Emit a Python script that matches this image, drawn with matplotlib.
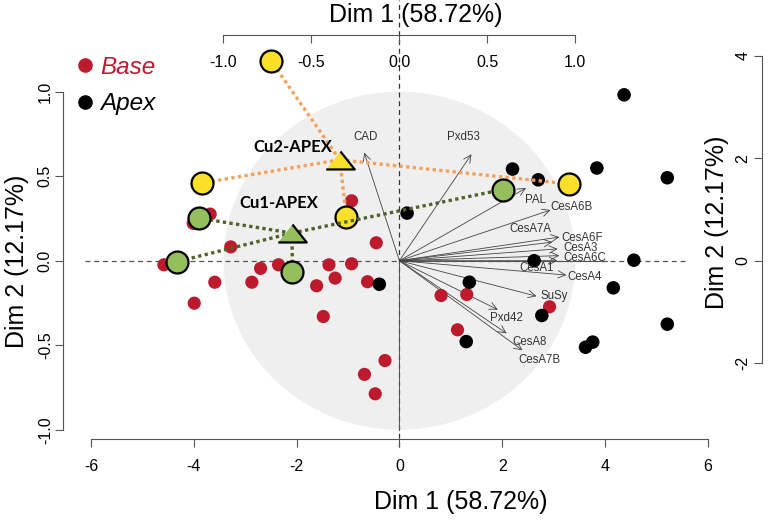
import matplotlib
matplotlib.use('Agg')
import matplotlib.pyplot as plt
from matplotlib.patches import Ellipse, FancyArrowPatch
from matplotlib.lines import Line2D

plt.rcParams['font.family'] = ['Liberation Sans', 'DejaVu Sans']
plt.rcParams['axes.unicode_minus'] = False

# ---------------- data ----------------
base_x = [-4.58, -3.59, -3.99, -3.68, -4.01, -3.28, -2.70, -2.35, -2.87, -1.37, -0.93, -1.25,
          -1.61, -1.48, -0.62, -0.45, -0.93, -0.28, -0.68, -0.47, 0.81, 1.31, 1.13, 2.92]
base_y = [-0.08, -0.42, -0.83, 0.91, 0.73, 0.27, -0.15, -0.08, -0.42, -0.08, -0.06, -0.34,
          -0.49, -1.09, -0.41, 0.35, 1.17, -1.95, -2.22, -2.60, -0.68, -0.66, -1.35, -0.90]

apex_x = [-0.39, 0.15, 2.20, 2.70, 3.84, 4.37, 5.21, 2.62, 4.56, 4.16, 1.36, 2.77, 1.30, 3.62, 3.76, 5.21]
apex_y = [-0.46, 0.93, 1.79, 1.58, 1.81, 3.24, 1.62, 0.00, 0.01, -0.53, -0.42, -1.07, -1.58, -1.69, -1.59, -1.24]

cu2_x = [-2.50, -3.83, -1.03, 3.30]
cu2_y = [3.91, 1.52, 0.86, 1.50]
cu2_center = (-1.16, 1.97)

cu1_x = [-3.89, -4.33, -2.08, 2.01]
cu1_y = [0.83, -0.02, -0.23, 1.39]
cu1_center = (-2.09, 0.54)

var_names = ['CAD', 'Pxd53', 'PAL', 'CesA6B', 'CesA7A', 'CesA6F', 'CesA3', 'CesA6C',
             'CesA1', 'CesA4', 'SuSy', 'Pxd42', 'CesA8', 'CesA7B']
var_x = [-0.20, 0.41, 0.72, 0.86, 0.87, 0.91, 0.90, 0.91, 0.90, 0.95, 0.78, 0.56, 0.61, 0.70]
var_y = [0.64, 0.63, 0.43, 0.30, 0.11, 0.14, 0.07, 0.03, 0.00, -0.085, -0.21, -0.29, -0.43, -0.53]

bottom_ticks = [-6, -4, -2, 0, 2, 4, 6]
right_ticks = [-2, 0, 2, 4]
var_ticks = [-1.0, -0.5, 0.0, 0.5, 1.0]
var_ticklabels = ['-1.0', '-0.5', '0.0', '0.5', '1.0']
xlab = 'Dim 1 (58.72%)'
ylab = 'Dim 2 (12.17%)'

# ---------------- layout (pixel based) ----------------
W, H = 768, 521
def fx(px): return px / W
def fy(py): return 1 - py / H

X0, SX = 399.4, 51.42      # individuals: pixel = X0 + SX*x
Y0, SY = 260.7, 51.2       # individuals: pixel = Y0 - SY*y
VSX, VSY = 175.8, 169.0    # variables scale (px per unit)
kx, ky = VSX / SX, VSY / SY

L, R, T, B = 63, 762, 35, 439

# label positions for variables (variable units)
var_lab = {
    'CAD': (-0.19, 0.73, 'center'), 'Pxd53': (0.364, 0.73, 'center'), 'PAL': (0.772, 0.36, 'center'),
    'CesA6B': (0.86, 0.32, 'left'), 'CesA7A': (0.743, 0.188, 'center'), 'CesA6F': (0.92, 0.132, 'left'),
    'CesA3': (0.93, 0.073, 'left'), 'CesA6C': (0.93, 0.018, 'left'), 'CesA1': (0.781, -0.045, 'center'),
    'CesA4': (0.955, -0.096, 'left'), 'SuSy': (0.80, -0.207, 'left'), 'Pxd42': (0.611, -0.341, 'center'),
    'CesA8': (0.743, -0.483, 'center'), 'CesA7B': (0.796, -0.588, 'center'),
}

RED = '#BE1A2E'
ORANGE = '#F7A05A'
OLIVE = '#4F6228'
YELLOW = '#FBE02A'
GREEN = '#93BF5C'
AXC = '#555555'

fig = plt.figure(figsize=(W / 100, H / 100), dpi=100)
ax = fig.add_axes([fx(L), fy(B), fx(R) - fx(L), fy(T) - fy(B)])
ax.set_xlim((L - X0) / SX, (R - X0) / SX)
ax.set_ylim((Y0 - B) / SY, (Y0 - T) / SY)
ax.patch.set_visible(False)
for s in ['left', 'right', 'top']:
    ax.spines[s].set_visible(False)
ax.spines['bottom'].set_bounds(-6, 6)
ax.spines['bottom'].set_color(AXC)
ax.set_xticks(bottom_ticks)
ax.set_xticklabels([str(t) for t in bottom_ticks])
ax.set_yticks([])
ax.tick_params(axis='x', length=5.8, width=0.8, color=AXC, pad=8.5, labelsize=11.5)

# background circle of variables
ax.add_patch(Ellipse((0, 0), 2 * kx, 2 * ky, facecolor='#EFEFEF', edgecolor='none', zorder=0))

# reference lines
ax.plot([(85 - X0) / SX, (685 - X0) / SX], [0, 0], ls=(0, (4, 3)), color=AXC, lw=0.9, zorder=1)
ax.plot([0, 0], [(Y0 - 447) / SY, (Y0 - 0) / SY], ls=(0, (4, 3)), color='#333333', lw=0.9,
        zorder=1, clip_on=False)
ax.plot([0, 0], [0, -ky], color=AXC, lw=0.7, zorder=1)
ax.plot([0, (607 - X0) / SX], [0, 0], color=AXC, lw=0.7, zorder=1)

# variable arrows
for n, vx, vy in zip(var_names, var_x, var_y):
    arr = FancyArrowPatch((0, 0), (vx * kx, vy * ky), arrowstyle='->,head_length=0.45,head_width=0.22',
                          mutation_scale=12, color='#444444', lw=0.6, shrinkA=0, shrinkB=0, zorder=2)
    ax.add_patch(arr)
    lx, ly, ha = var_lab[n]
    ax.text(lx * kx, ly * ky, n, fontsize=8.3, color='#333333', ha=ha, va='center', zorder=2)

# individuals
ax.scatter(base_x, base_y, s=90, color=RED, edgecolors='none', zorder=3)
ax.scatter(apex_x, apex_y, s=95, color='black', edgecolors='none', zorder=3)

# Cu2 partial lines and points
for x, y in zip(cu2_x, cu2_y):
    ax.plot([cu2_center[0], x], [cu2_center[1], y], color=ORANGE, lw=2.4, ls=(0, (1, 1)),
            solid_capstyle='butt', dash_capstyle='butt', zorder=4)
ax.scatter(cu2_x, cu2_y, s=250, color=YELLOW, edgecolors='black', linewidths=1.6, zorder=5)

# Cu1 partial lines and points
for x, y in zip(cu1_x, cu1_y):
    ax.plot([cu1_center[0], x], [cu1_center[1], y], color=OLIVE, lw=2.4, ls=(0, (1, 1)),
            dash_capstyle='butt', zorder=6)
ax.scatter(cu1_x, cu1_y, s=250, color=GREEN, edgecolors='black', linewidths=1.6, zorder=7)

tri = [(-1, -0.63), (1, -0.63), (0, 0.63)]
ax.scatter([cu2_center[0]], [cu2_center[1]], marker=tri, s=420, color=YELLOW, edgecolors='black',
           linewidths=1.6, zorder=8)
ax.scatter([cu1_center[0]], [cu1_center[1]], marker=tri, s=420, color=GREEN, edgecolors='black',
           linewidths=1.6, zorder=8)

ax.text((292.5 - X0) / SX, (Y0 - 147.3) / SY, 'Cu2-APEX', family=['Lato', 'DejaVu Sans'],
        fontweight='bold', fontsize=12, ha='center', va='center', zorder=9)
ax.text((278.7 - X0) / SX, (Y0 - 202.7) / SY, 'Cu1-APEX', family=['Lato', 'DejaVu Sans'],
        fontweight='bold', fontsize=12, ha='center', va='center', zorder=9)

# ---- left axis (variables) ----
axL = fig.add_axes([fx(L), fy(B), 1e-4, fy(T) - fy(B)])
axL.patch.set_visible(False)
axL.set_ylim((Y0 - B) / VSY, (Y0 - T) / VSY)
for s in ['right', 'top', 'bottom']:
    axL.spines[s].set_visible(False)
axL.spines['left'].set_bounds(-1, 1)
axL.spines['left'].set_color(AXC)
axL.set_xticks([])
axL.set_yticks(var_ticks)
axL.set_yticklabels(var_ticklabels)
axL.tick_params(axis='y', length=5.8, width=0.8, color=AXC, pad=1.5, labelsize=11.5, labelrotation=90)
for lab in axL.get_yticklabels():
    lab.set_va('center')

# ---- top axis (variables) ----
axT = fig.add_axes([fx(L), fy(T), fx(R) - fx(L), 1e-4])
axT.patch.set_visible(False)
axT.set_xlim((L - 399.3) / VSX, (R - 399.3) / VSX)
for s in ['right', 'top', 'left']:
    axT.spines[s].set_visible(False)
axT.spines['bottom'].set_bounds(-1, 1)
axT.spines['bottom'].set_color(AXC)
axT.set_yticks([])
axT.set_xticks(var_ticks)
axT.set_xticklabels(var_ticklabels)
axT.tick_params(axis='x', length=5.8, width=0.8, color=AXC, pad=8.5, labelsize=11.5)

# ---- right axis (individuals) ----
axR = fig.add_axes([fx(R), fy(B), 1e-4, fy(T) - fy(B)])
axR.patch.set_visible(False)
axR.set_ylim(ax.get_ylim())
for s in ['right', 'top', 'bottom']:
    axR.spines[s].set_visible(False)
axR.spines['left'].set_bounds(-2, 4)
axR.spines['left'].set_color(AXC)
axR.set_xticks([])
axR.set_yticks(right_ticks)
axR.set_yticklabels([str(t) for t in right_ticks])
axR.tick_params(axis='y', length=5.8, width=0.8, color=AXC, pad=2.5, labelsize=11.5, labelrotation=90)
for lab in axR.get_yticklabels():
    lab.set_va('center')

# axis titles
fig.text(fx(460.7), fy(501.7), xlab, fontsize=18, ha='center', va='center')
fig.text(fx(415.7), fy(15), xlab, fontsize=18, ha='center', va='center')
fig.text(fx(17), fy(261), ylab, fontsize=18, ha='center', va='center', rotation=90)
fig.text(fx(717), fy(222.5), ylab, fontsize=18, ha='center', va='center', rotation=90)

# legend
handles = [Line2D([], [], marker='o', ls='none', color=RED, markersize=9.5),
           Line2D([], [], marker='o', ls='none', color='black', markersize=9.5)]
fig.legend(handles, ['Base', 'Apex'], loc='upper left', bbox_to_anchor=(fx(78), fy(56)),
           frameon=False, borderpad=0, borderaxespad=0, handlelength=0.6, handletextpad=0.3,
           labelspacing=0.55, prop=dict(style='italic', size=17.5), labelcolor=[RED, 'black'])

fig.savefig('out.png', dpi=100)
